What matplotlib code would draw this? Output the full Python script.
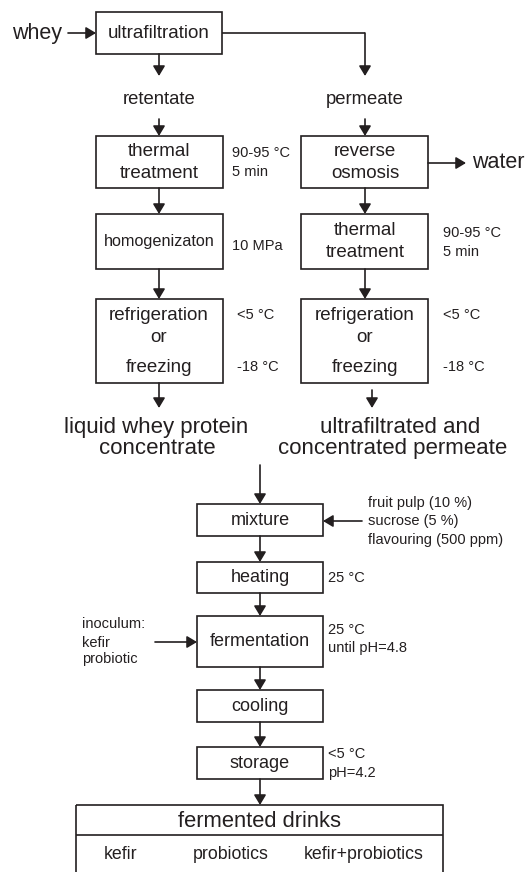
import matplotlib
matplotlib.use("Agg")
from matplotlib import pyplot as plt
from matplotlib.patches import Rectangle

plt.rcParams['font.family'] = ['Liberation Sans', 'DejaVu Sans']

# --- texts of the diagram ---
feed = "whey"
first_step = "ultrafiltration"
streams = ["retentate", "permeate"]
left_steps = [["thermal", "treatment"], ["homogenizaton"], ["refrigeration", "or", "freezing"]]
left_notes = [["90-95 °C", "5 min"], ["10 MPa"], ["<5 °C", "-18 °C"]]
right_steps = [["reverse", "osmosis"], ["thermal", "treatment"], ["refrigeration", "or", "freezing"]]
right_notes = [[], ["90-95 °C", "5 min"], ["<5 °C", "-18 °C"]]
by_product = "water"
products = [["liquid whey protein", "concentrate"], ["ultrafiltrated and", "concentrated permeate"]]
drink_steps = ["mixture", "heating", "fermentation", "cooling", "storage"]
drink_notes = [[], ["25 °C"], ["25 °C", "until pH=4.8"], [], ["<5 °C", "pH=4.2"]]
ingredients = ["fruit pulp (10 %)", "sucrose (5 %)", "flavouring (500 ppm)"]
inoculum = ["inoculum:", "kefir", "probiotic"]
final_title = "fermented drinks"
drink_types = ["kefir", "probiotics", "kefir+probiotics"]

# --- layout (pixels, y down) ---
C = "#231f20"
LW = 1.2
W, H = 528, 872
fig = plt.figure(figsize=(W / 100, H / 100), dpi=100)
ax = fig.add_axes([0, 0, 1, 1])
ax.set_xlim(0, W)
ax.set_ylim(H, 0)
ax.axis("off")


def box(x0, y0, x1, y1):
    ax.add_patch(Rectangle((x0, y0), x1 - x0, y1 - y0, fill=False, ec=C, lw=LW))


def arrow(x0, y0, x1, y1):
    ax.annotate("", xy=(x1, y1), xytext=(x0, y0),
                arrowprops=dict(arrowstyle="-|>,head_length=0.6,head_width=0.36",
                                color=C, lw=LW, shrinkA=0, shrinkB=0))


def line(xs, ys):
    ax.plot(xs, ys, color=C, lw=LW, solid_capstyle="butt")


def txt(x, y, s, size, ha="center"):
    ax.text(x, y, s, fontsize=size, ha=ha, va="center", color=C)


# top: whey -> ultrafiltration
txt(37, 33, feed, 15.5)
arrow(68, 33, 96, 33)
box(96, 12, 222, 54)
txt(159, 33, first_step, 13.5)

col_x = [159, 365]
col_left = [96, 301]
col_right = [223, 428]
line([222, 365], [33, 33])
arrow(365, 33, 365, 76)
arrow(159, 54, 159, 76)
for cx, s in zip(col_x, streams):
    txt(cx, 100, s, 13.3)
    arrow(cx, 119, cx, 136)

rows = [(136, 188), (214, 269), (299, 383)]
line_offsets = {1: [0], 2: [-11, 11], 3: [-26, -4, 26]}
note_x = [232, 443]

for k, (steps, notes) in enumerate([(left_steps, left_notes), (right_steps, right_notes)]):
    cx = col_x[k]
    for i, (lines, nts) in enumerate(zip(steps, notes)):
        y0, y1 = rows[i]
        box(col_left[k], y0, col_right[k], y1)
        cy = (y0 + y1) / 2
        size = 11.7 if lines == ["homogenizaton"] else 13.5
        for off, s in zip(line_offsets[len(lines)], lines):
            txt(cx, cy + off, s, size)
        if len(lines) == 3:
            offs = [-26, 26]
        elif len(nts) == 1:
            offs = [4]
        else:
            offs = [-9, 10]
        nx = note_x[k] + (5 if (k == 0 and i == 2) else 0)
        for off, s in zip(offs, nts):
            txt(nx, cy + off, s, 10.5, ha="left")
        if i < len(rows) - 1:
            arrow(cx, y1, cx, rows[i + 1][0])

# water outlet
arrow(428, 163, 466, 163)
txt(472, 162, by_product, 15.5, ha="left")

# products
arrow(159, 383, 159, 408)
arrow(372, 390, 372, 408)
txt(156, 427, products[0][0], 16)
txt(157, 448, products[0][1], 16)
txt(400, 427, products[1][0], 16)
txt(393, 448, products[1][1], 16)

# drink process
dx, dl, dr = 260, 197, 323
drows = [(504, 536), (562, 593), (616, 667), (690, 722), (747, 779)]
arrow(dx, 465, dx, drows[0][0])
for i, (s, nts) in enumerate(zip(drink_steps, drink_notes)):
    y0, y1 = drows[i]
    box(dl, y0, dr, y1)
    cy = (y0 + y1) / 2
    txt(dx, cy, s, 13)
    if nts:
        offs = [0] if len(nts) == 1 else ([-12, 6] if i == 2 else [-9, 10])
        for off, n in zip(offs, nts):
            txt(328, cy + off, n, 10.5, ha="left")
    nxt = drows[i + 1][0] if i < len(drows) - 1 else 805
    arrow(dx, y1, dx, nxt)

# ingredients into mixture
arrow(362, 521, dr, 521)
for y, s in zip([503, 521, 540], ingredients):
    txt(368, y, s, 10.5, ha="left")

# inoculum into fermentation
arrow(155, 642, dl, 642)
for y, s in zip([624, 643, 659], inoculum):
    txt(82, y, s, 10.5, ha="left")

# final table
box(76, 805, 443, 885)
line([76, 443], [835, 835])
txt(260, 821, final_title, 15.8)
for x, s in zip([121, 231, 364], drink_types):
    txt(x, 854, s, 12.8)

fig.savefig("out.png", dpi=100)
